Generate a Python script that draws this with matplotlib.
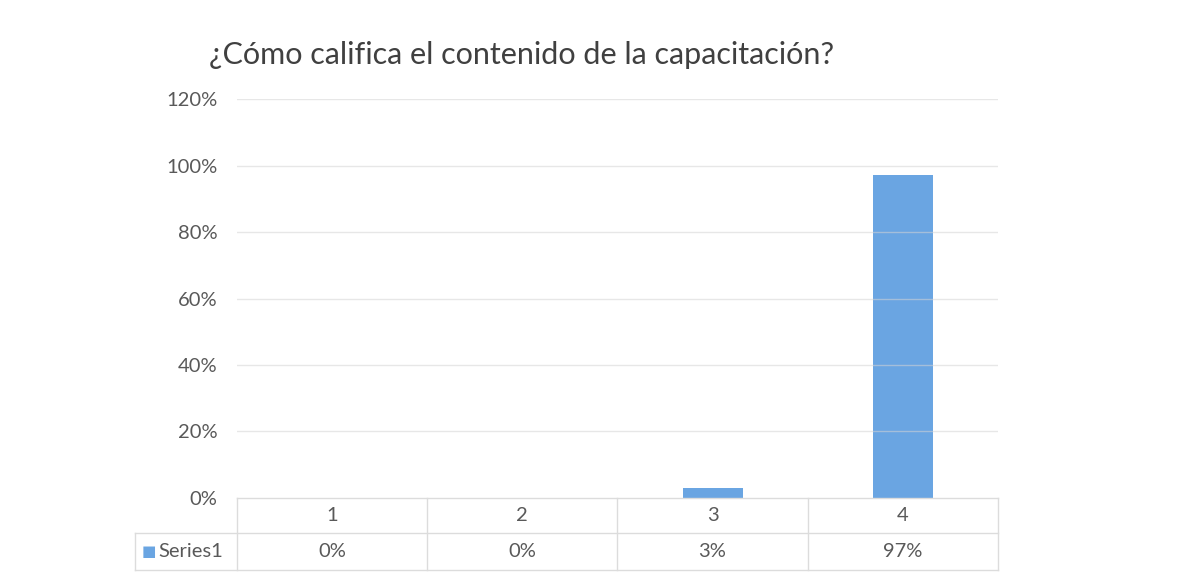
import matplotlib.pyplot as plt
from matplotlib.transforms import blended_transform_factory

# datos
categorias = ['1', '2', '3', '4']
valores = [0.0, 0.0, 0.03, 0.97]
etiquetas_valor = ['0%', '0%', '3%', '97%']
serie = 'Series1'
titulo = '¿Cómo califica el contenido de la capacitación?'
ticks_y = [0, 0.2, 0.4, 0.6, 0.8, 1.0, 1.2]

azul = '#6aa5e2'
gris_txt = '#595959'
gris_linea = '#dcdcdc'

plt.rcParams['font.family'] = ['Lato', 'DejaVu Sans']

fig = plt.figure(figsize=(11.8, 5.79), dpi=100)
ax = fig.add_axes([0.2008, 0.1399, 0.6449, 0.6891])

x = list(range(len(categorias)))
ax.bar(x, valores, width=0.315, color=azul, zorder=2)

ax.set_xlim(-0.5, len(categorias) - 0.5)
ax.set_ylim(0, 1.2)
ax.set_yticks(ticks_y)
ax.set_yticklabels([f'{int(round(t * 100))}%' for t in ticks_y])
ax.tick_params(axis='y', length=0, pad=14, labelsize=14.5, labelcolor=gris_txt)
ax.set_xticks([])

# lineas de cuadricula (se ven por encima de la barra)
for t in ticks_y[1:]:
    ax.axhline(t, color='#d4d4d4', linewidth=1, alpha=0.55, zorder=3)

for s in ax.spines.values():
    s.set_visible(False)

# tabla de datos
tr = blended_transform_factory(ax.transData, ax.transAxes)
fila1 = -35 / 399
fila2 = -72 / 399
izq = -102 / 761

ax.plot([-0.5, 3.5], [0, 0], color=gris_linea, lw=1, transform=tr, clip_on=False)
ax.plot([izq, 1], [fila1, fila1], color=gris_linea, lw=1, transform=ax.transAxes, clip_on=False)
ax.plot([izq, 1], [fila2, fila2], color=gris_linea, lw=1, transform=ax.transAxes, clip_on=False)
ax.plot([izq, izq], [fila1, fila2], color=gris_linea, lw=1, transform=ax.transAxes, clip_on=False)
for b in [-0.5, 0.5, 1.5, 2.5, 3.5]:
    ax.plot([b, b], [0, fila2], color=gris_linea, lw=1, transform=tr, clip_on=False)

for i, c in enumerate(categorias):
    ax.text(i, fila1 / 2, c, ha='center', va='center', fontsize=14.5,
            color=gris_txt, transform=tr)
    ax.text(i, (fila1 + fila2) / 2, etiquetas_valor[i], ha='center', va='center',
            fontsize=14.5, color=gris_txt, transform=tr)

# clave de la serie
ax.text(izq + 0.009, (fila1 + fila2) / 2, '\u25a0', ha='left', va='center', fontsize=11,
        color=azul, transform=ax.transAxes, family=['DejaVu Sans'])
ax.text(izq + 0.031, (fila1 + fila2) / 2, serie, ha='left', va='center', fontsize=14.5,
        color=gris_txt, transform=ax.transAxes)

fig.text(0.4424, 0.905, titulo, ha='center', va='center', fontsize=22, color='#404040')

fig.savefig('out.png', dpi=100, facecolor='white')
